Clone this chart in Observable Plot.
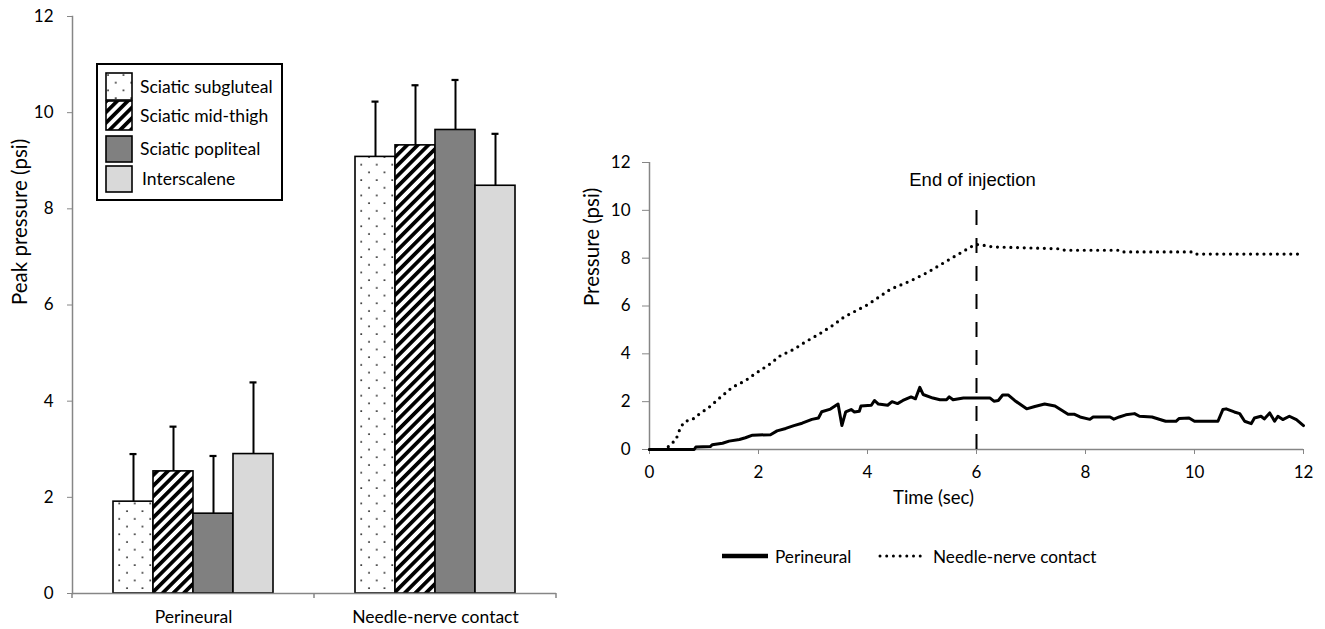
<!DOCTYPE html>
<html>
<head>
<meta charset="utf-8">
<script src="https://cdn.jsdelivr.net/npm/d3@7"></script>
<script src="https://cdn.jsdelivr.net/npm/@observablehq/plot@0.6"></script>
<style>
  body { margin: 0; background: #fff; }
  #wrap { position: relative; width: 1325px; height: 629px; overflow: hidden; font-family: Lato, "Open Sans", sans-serif; color: #000; }
  #left { position: absolute; left: 0; top: 0; }
  #right { position: absolute; left: 570px; top: 0; }
  #legL { position: absolute; left: 96px; top: 63px; width: 183px; height: 134px; border: 2px solid #000; background: #fff; }
  .sw { position: absolute; left: 7px; }
  .lt { position: absolute; left: 42px; font-size: 17.5px; line-height: 1; white-space: nowrap; }
  #legR { position: absolute; top: 546px; left: 0; width: 1325px; height: 20px; font-size: 17.2px; }
  #legR .it { position: absolute; top: 0; height: 20px; display: flex; align-items: center; white-space: nowrap; }
</style>
</head>
<body>
<svg width="0" height="0" style="position:absolute">
  <defs>
    <pattern id="dots" width="15.5" height="15.4" patternUnits="userSpaceOnUse">
      <rect width="15.5" height="15.4" fill="#fff"></rect>
      <circle cx="3" cy="3" r="0.95" fill="#000"></circle>
      <circle cx="10.75" cy="10.7" r="0.95" fill="#000"></circle>
    </pattern>
    <pattern id="stripes" width="7.5" height="7.5" patternUnits="userSpaceOnUse" patternTransform="rotate(45)">
      <rect width="7.5" height="7.5" fill="#fff"></rect>
      <rect width="3.7" height="7.5" fill="#000"></rect>
    </pattern>
  </defs>
</svg>
<div id="wrap">
  <div id="left"></div>
  <div id="right"></div>
  <div id="legL"></div>
  <div id="legR"></div>
</div>
<script>
// ---------- Left chart data ----------
const categories = ["Perineural", "Needle-nerve contact"];
const series = ["Sciatic subgluteal", "Sciatic mid-thigh", "Sciatic popliteal", "Interscalene"];
const perineuralMean = [1.91, 2.54, 1.66, 2.90];
const perineuralSD   = [0.99, 0.93, 1.20, 1.49];
const needleMean     = [9.08, 9.32, 9.64, 8.48];
const needleSD       = [1.15, 1.25, 1.04, 1.08];
const seriesFills = ["url(#dots)", "url(#stripes)", "#808080", "#d9d9d9"];
const yTicksLeft = [0, 2, 4, 6, 8, 10, 12];

// ---------- Right chart data ----------
const perineuralT = [0, 0.82, 0.85, 1.12, 1.15, 1.34, 1.46, 1.65, 1.76, 1.89, 2.22, 2.34, 2.5, 2.65, 2.8, 2.98, 3.1, 3.16, 3.32, 3.46, 3.53, 3.6, 3.7, 3.76, 3.85, 3.88, 4.07, 4.13, 4.2, 4.37, 4.45, 4.55, 4.65, 4.8, 4.88, 4.96, 5.02, 5.2, 5.33, 5.45, 5.5, 5.57, 5.76, 6.25, 6.32, 6.4, 6.48, 6.58, 6.7, 6.92, 7.07, 7.25, 7.44, 7.68, 7.8, 7.9, 8.08, 8.14, 8.45, 8.52, 8.62, 8.74, 8.9, 8.99, 9.22, 9.47, 9.66, 9.72, 9.9, 10.0, 10.43, 10.52, 10.58, 10.73, 10.83, 10.92, 11.04, 11.1, 11.22, 11.28, 11.38, 11.47, 11.53, 11.62, 11.74, 11.87, 12.0];
const perineuralP = [0, 0, 0.1, 0.13, 0.2, 0.26, 0.35, 0.42, 0.49, 0.6, 0.62, 0.78, 0.88, 1.0, 1.1, 1.26, 1.32, 1.58, 1.69, 1.9, 1.0, 1.57, 1.67, 1.57, 1.6, 1.82, 1.85, 2.05, 1.9, 1.85, 2.0, 1.92, 2.05, 2.2, 2.12, 2.6, 2.3, 2.15, 2.08, 2.08, 2.2, 2.08, 2.15, 2.15, 2.02, 2.05, 2.28, 2.28, 2.05, 1.7, 1.8, 1.9, 1.82, 1.47, 1.47, 1.36, 1.26, 1.36, 1.36, 1.27, 1.36, 1.45, 1.5, 1.39, 1.36, 1.18, 1.18, 1.3, 1.32, 1.18, 1.18, 1.67, 1.7, 1.57, 1.5, 1.18, 1.08, 1.32, 1.39, 1.28, 1.53, 1.18, 1.39, 1.25, 1.39, 1.25, 1.0];
const needleT = [0, 0.3, 0.39, 0.48, 0.57, 0.65, 0.78, 0.9, 1.09, 1.3, 1.52, 1.76, 1.97, 2.19, 2.4, 2.65, 2.86, 3.11, 3.35, 3.57, 4.0, 4.42, 4.79, 5.1, 5.46, 5.77, 5.98, 6.1, 6.3, 7.55, 7.62, 8.6, 8.65, 9.95, 10.0, 12.0];
const needleP = [0, 0, 0.24, 0.38, 0.93, 1.18, 1.24, 1.46, 1.76, 2.18, 2.6, 2.88, 3.22, 3.54, 3.92, 4.19, 4.5, 4.82, 5.17, 5.54, 6.05, 6.7, 7.05, 7.4, 7.89, 8.3, 8.58, 8.55, 8.47, 8.39, 8.33, 8.33, 8.26, 8.26, 8.17, 8.17];
const ticksRight = [0, 2, 4, 6, 8, 10, 12];
const injectionEnd = [{t: 6, top: 10.4, labelY: 11.25, label: "End of injection"}];

// ---------- Left chart ----------
const rows = [];
categories.forEach((c, ci) => {
  const means = ci === 0 ? perineuralMean : needleMean;
  const sds = ci === 0 ? perineuralSD : needleSD;
  series.forEach((s, si) => rows.push({cat: c, series: s, mean: means[si], top: means[si] + sds[si]}));
});

const grey = "#868686";
const left = Plot.plot({
  width: 580, height: 629,
  marginLeft: 72, marginRight: 24, marginTop: 16, marginBottom: 36,
  style: {fontFamily: "Lato, sans-serif", color: "#000", background: "transparent"},
  fx: {domain: categories, padding: 0, label: null},
  x: {domain: series, paddingInner: 0, paddingOuter: 1, axis: null},
  y: {domain: [0, 12], label: null},
  color: {type: "ordinal", domain: series, range: seriesFills},
  marks: [
    Plot.ruleX(rows, {fx: "cat", x: "series", y1: "mean", y2: "top", stroke: "#000", strokeWidth: 2}),
    Plot.tickY(rows, {fx: "cat", x: "series", y: "top", inset: 16.5, stroke: "#000", strokeWidth: 2.2}),
    Plot.barY(rows, {fx: "cat", x: "series", y: "mean", fill: "series", stroke: "#000", strokeWidth: 1.6}),
    Plot.ruleY([0], {stroke: grey, strokeWidth: 1.5}),
    Plot.frame({anchor: "left", facetAnchor: "left", stroke: grey, strokeWidth: 1.5}),
    Plot.axisY({ticks: yTicksLeft, tickSize: 5, tickPadding: 14, stroke: grey, fill: "#000", fontSize: 17, label: null}),
    Plot.axisFx({anchor: "bottom", tickSize: 0, tickPadding: 17, fontSize: 17.5, fill: "#000", label: null}),
    Plot.text(["Peak pressure (psi)"], {text: d => d, frameAnchor: "left", rotate: -90, dx: -52, fontSize: 20.5, facetAnchor: "left", fill: "#000"})
  ]
});
document.getElementById("left").appendChild(left);

// boundary ticks of the category axis, from the library's fx / y scales
{
  const fxS = left.scale("fx");
  const yS = left.scale("y");
  const y0 = yS.apply(0);
  const edges = categories.map(c => fxS.apply(c));
  edges.push(fxS.apply(categories[categories.length - 1]) + fxS.bandwidth);
  const svg = d3.select(left);
  svg.append("g").selectAll("line").data(edges).join("line")
    .attr("x1", d => d).attr("x2", d => d)
    .attr("y1", y0).attr("y2", y0 + 5)
    .attr("stroke", grey).attr("stroke-width", 1.5);
}

// Left legend (HTML)
{
  const leg = document.getElementById("legL");
  const tops = [8, 36, 71, 101];
  const hs = [27, 29, 26, 26];
  series.forEach((s, i) => {
    const sw = document.createElementNS("http://www.w3.org/2000/svg", "svg");
    sw.setAttribute("class", "sw");
    sw.setAttribute("width", 28); sw.setAttribute("height", hs[i] + 2);
    sw.style.top = (tops[i] - 1) + "px";
    const r = document.createElementNS("http://www.w3.org/2000/svg", "rect");
    r.setAttribute("x", 1); r.setAttribute("y", 1); r.setAttribute("width", 26); r.setAttribute("height", hs[i]);
    r.setAttribute("fill", seriesFills[i]); r.setAttribute("stroke", "#000"); r.setAttribute("stroke-width", 1.6);
    sw.appendChild(r);
    leg.appendChild(sw);
    const t = document.createElement("div");
    t.className = "lt";
    t.textContent = s;
    t.style.top = (tops[i] + hs[i] / 2 - 9) + "px";
    if (i === 3) t.style.left = "44px";
    leg.appendChild(t);
  });
}

// ---------- Right chart ----------
const perineural = perineuralT.map((t, i) => ({t, p: perineuralP[i]}));
const needle = needleT.map((t, i) => ({t, p: needleP[i]}));

const right = Plot.plot({
  width: 755, height: 629,
  marginLeft: 79, marginRight: 22, marginTop: 162, marginBottom: 180,
  style: {fontFamily: "Lato, sans-serif", color: "#000", background: "transparent"},
  x: {domain: [0, 12], label: null},
  y: {domain: [0, 12], label: null},
  marks: [
    Plot.ruleY([0], {stroke: grey, strokeWidth: 1.5}),
    Plot.ruleX([0], {stroke: grey, strokeWidth: 1.5}),
    Plot.axisY({ticks: ticksRight, tickSize: 7, tickPadding: 12, stroke: grey, fill: "#000", fontSize: 17, label: null}),
    Plot.axisX({ticks: ticksRight, tickSize: 5, tickPadding: 11, stroke: grey, fill: "#000", fontSize: 17, label: null}),
    Plot.ruleX(injectionEnd, {x: "t", y1: 0, y2: "top", stroke: "#000", strokeWidth: 2, strokeDasharray: "15 13"}),
    Plot.line(needle, {x: "t", y: "p", stroke: "#000", strokeWidth: 3.2, strokeDasharray: "0 6.7", strokeLinecap: "round"}),
    Plot.line(perineural, {x: "t", y: "p", stroke: "#000", strokeWidth: 3, strokeLinejoin: "round"}),
    Plot.text(injectionEnd, {x: "t", y: "labelY", text: "label", fontFamily: "'Liberation Sans', Arial, sans-serif", fontSize: 18.5, dx: -4, fill: "#000"}),
    Plot.text(["Pressure (psi)"], {text: d => d, frameAnchor: "left", rotate: -90, dx: -57, fontSize: 20.5, fill: "#000"}),
    Plot.text(["Time (sec)"], {text: d => d, frameAnchor: "bottom", dy: 54, dx: -43, fontSize: 18.5, fill: "#000"})
  ]
});
document.getElementById("right").appendChild(right);

// Right legend (HTML)
{
  const leg = document.getElementById("legR");
  const items = [
    {label: "Perineural", x: 720, w: 48, dash: null},
    {label: "Needle-nerve contact", x: 878, w: 48, dash: "0 6.7"}
  ];
  items.forEach(it => {
    const d = document.createElement("div");
    d.className = "it";
    d.style.left = it.x + "px";
    const s = document.createElementNS("http://www.w3.org/2000/svg", "svg");
    s.setAttribute("width", it.w + 4); s.setAttribute("height", 20);
    const l = document.createElementNS("http://www.w3.org/2000/svg", "line");
    l.setAttribute("x1", 2); l.setAttribute("x2", it.w); l.setAttribute("y1", 10); l.setAttribute("y2", 10);
    l.setAttribute("stroke", "#000");
    if (it.dash) { l.setAttribute("stroke-dasharray", it.dash); l.setAttribute("stroke-width", 3); l.setAttribute("stroke-linecap", "round"); }
    else { l.setAttribute("stroke-width", 4.5); }
    s.appendChild(l);
    d.appendChild(s);
    const t = document.createElement("span");
    t.textContent = it.label;
    t.style.marginLeft = "3px";
    d.appendChild(t);
    leg.appendChild(d);
  });
}
</script>
</body>
</html>
